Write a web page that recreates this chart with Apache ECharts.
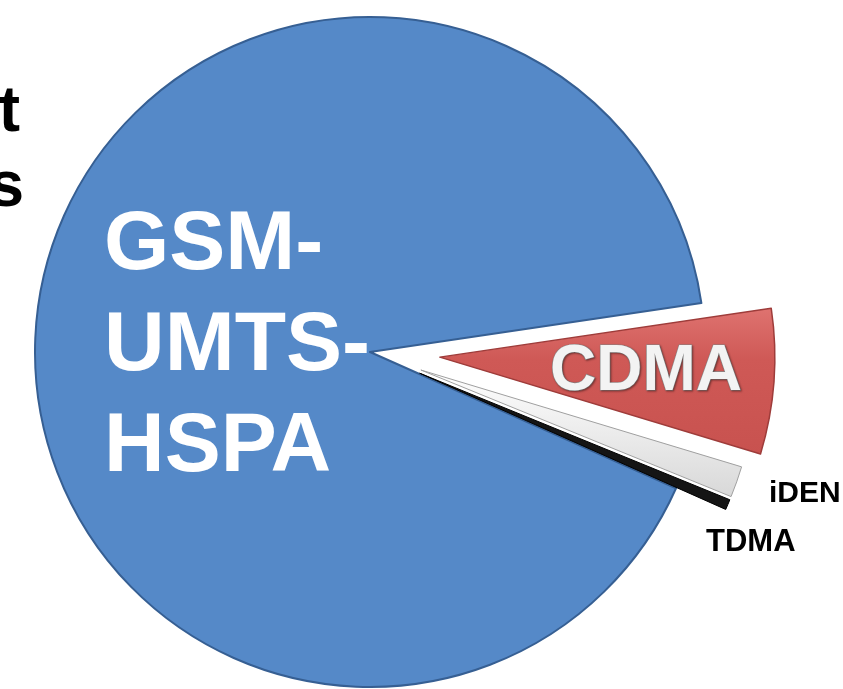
<!DOCTYPE html>
<html>
<head>
<meta charset="utf-8">
<title>Subscribers by technology</title>
<script src="https://cdn.jsdelivr.net/npm/echarts@6/dist/echarts.min.js"></script>
<style>
  html, body { margin: 0; padding: 0; background: #fff; }
  #chart { width: 843px; height: 689px; }
</style>
</head>
<body>
<div id="chart"></div>
<script>
// share of subscribers per technology (%)
var categories = ['GSM-UMTS-HSPA', 'CDMA', 'iDEN', 'TDMA']
var shares = [91.0, 7.0, 1.5, 0.5]
// the heading is cut by the left edge, only its last letters are left
var headingTails = ['t', 's']

var FONT = '"Liberation Sans", Arial, sans-serif'

var sliceStyles = [
  {color: '#5589c8', borderColor: '#365f93', borderWidth: 2},
  {
    color: {
      type: 'linear', x: 0, y: 0, x2: 0, y2: 1,
      colorStops: [{offset: 0, color: '#df7370'}, {offset: 0.35, color: '#cf5956'}, {offset: 1, color: '#c8524f'}]
    },
    borderColor: '#9e3c3a',
    borderWidth: 1.5
  },
  {
    color: {
      type: 'linear', x: 0, y: 0, x2: 0, y2: 1,
      colorStops: [{offset: 0, color: '#ffffff'}, {offset: 1, color: '#d8d8d8'}]
    },
    borderColor: '#a0a0a0',
    borderWidth: 1
  },
  {color: '#151515', borderColor: '#000', borderWidth: 1}
]

// CDMA sticks out further than iDEN / TDMA, so it gets its own series
// with a bigger offset; hidden slices keep the angles in step
function buildSeries (shown, offset) {
  return {
    type: 'pie',
    center: [370, 352],
    radius: 335,
    startAngle: 336,
    clockwise: true,
    selectedMode: 'multiple',
    selectedOffset: offset,
    avoidLabelOverlap: false,
    silent: true,
    label: {show: false},
    labelLine: {show: false},
    emphasis: {disabled: true},
    data: categories.map(function (name, i) {
      var style = shown.indexOf(i) >= 0 ? sliceStyles[i] : {opacity: 0}
      return {
        name: name,
        value: shares[i],
        selected: i > 0,
        itemStyle: style,
        select: {itemStyle: style}
      }
    })
  }
}

function text (str, x, y, size, opts) {
  var style = {
    text: str,
    x: x,
    y: y,
    font: 'bold ' + size + 'px ' + FONT,
    fill: '#000',
    align: 'left',
    textAlign: 'left',
    verticalAlign: 'middle',
    textVerticalAlign: 'middle'
  }
  for (var k in opts) style[k] = opts[k]
  return {type: 'text', z: 10, silent: true, style: style}
}

var chart = echarts.init(document.getElementById('chart'))
chart.setOption({
  animation: false,
  backgroundColor: '#fff',
  series: [
    buildSeries([0, 2, 3], 54),
    buildSeries([1], 70)
  ],
  graphic: [
    text(headingTails[0], 20, 113, 64, {align: 'right', textAlign: 'right'}),
    text(headingTails[1], 24, 188, 64, {align: 'right', textAlign: 'right'}),
    text(categories[0].replace(/-/g, '-\n'), 104, 347, 84, {fill: '#fff', lineHeight: 101}),
    text(categories[1], 646, 372, 64, {
      fill: '#f3f3f3',
      align: 'center',
      textAlign: 'center',
      stroke: '#8c8c8c',
      lineWidth: 1.2,
      textShadowColor: 'rgba(0,0,0,0.35)',
      textShadowBlur: 2,
      textShadowOffsetX: 1,
      textShadowOffsetY: 1
    }),
    text(categories[2], 769, 494, 30),
    text(categories[3], 706, 542, 31)
  ]
})
</script>
</body>
</html>
